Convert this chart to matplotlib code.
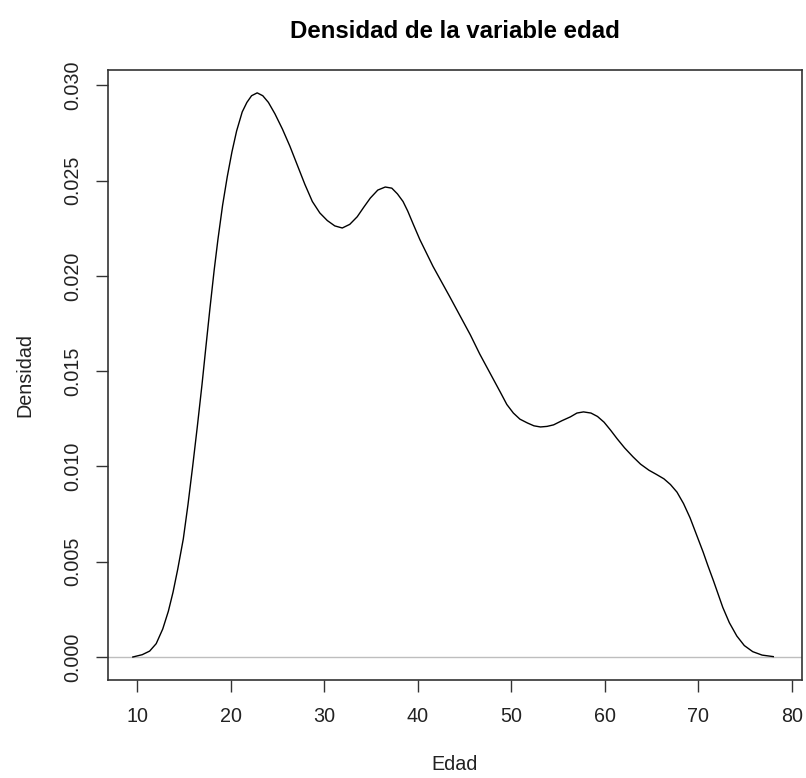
import matplotlib
matplotlib.use("Agg")
import matplotlib.pyplot as plt

plt.rcParams['font.family'] = ['Liberation Sans', 'DejaVu Sans']

titulo = "Densidad de la variable edad"
etiqueta_x = "Edad"
etiqueta_y = "Densidad"

edad = [9.5, 10.5, 11.3, 12.0, 12.7, 13.3, 13.8, 14.3, 14.9, 15.4,
        15.9, 16.4, 16.9, 17.3, 17.75, 18.2, 18.6, 19.1, 19.6, 20.1,
        20.6, 21.2, 21.7, 22.2, 22.8, 23.4, 24.0, 24.7, 25.5, 26.3,
        27.1, 27.9, 28.7, 29.5, 30.3, 31.1, 31.9, 32.7, 33.5, 34.2,
        34.9, 35.7, 36.5, 37.2, 37.8, 38.4, 38.9, 39.5, 40.2, 40.9,
        41.6, 42.5, 43.4, 44.5, 45.6, 46.6, 47.7, 48.8, 49.5, 50.2,
        50.9, 51.7, 52.4, 53.1, 53.8, 54.5, 55.4, 56.3, 57.0, 57.7,
        58.5, 59.2, 59.9, 60.6, 61.3, 62.1, 63.0, 63.8, 64.7, 65.5,
        66.3, 67.0, 67.7, 68.4, 69.1, 69.8, 70.5, 71.0, 71.6, 72.1,
        72.6, 73.3, 74.1, 74.9, 75.8, 76.8, 78.0]
densidad = [0.0, 0.00012, 0.00031, 0.0007, 0.00147, 0.0024, 0.0034, 0.0046, 0.0062, 0.0080,
            0.0100, 0.0121, 0.0143, 0.0162, 0.0183, 0.0203, 0.0219, 0.0237, 0.0252, 0.0265,
            0.0276, 0.0286, 0.0291, 0.02945, 0.0296, 0.02945, 0.0291, 0.0285, 0.0277, 0.0268,
            0.0258, 0.0248, 0.0239, 0.0233, 0.0229, 0.02262, 0.02251, 0.0227, 0.0231, 0.0236,
            0.02408, 0.0245, 0.02466, 0.0246, 0.0243, 0.0239, 0.0234, 0.0227, 0.0219, 0.0212,
            0.0205, 0.0197, 0.0189, 0.0179, 0.0169, 0.0159, 0.0149, 0.0139, 0.01325, 0.0128,
            0.01248, 0.01228, 0.01213, 0.01207, 0.0121, 0.01218, 0.0124, 0.0126, 0.0128, 0.01286,
            0.0128, 0.01262, 0.01232, 0.0119, 0.01145, 0.01097, 0.0105, 0.01012, 0.0098, 0.00958,
            0.00935, 0.00905, 0.00865, 0.00805, 0.0073, 0.0064, 0.0055, 0.0048, 0.0040, 0.0033,
            0.0026, 0.0018, 0.0011, 0.0006, 0.00028, 0.0001, 0.00002]

xticks = [10, 20, 30, 40, 50, 60, 70, 80]
yticks = [0.000, 0.005, 0.010, 0.015, 0.020, 0.025, 0.030]
ytick_labels = ["0.000", "0.005", "0.010", "0.015", "0.020", "0.025", "0.030"]

W, H = 806, 778
fig = plt.figure(figsize=(W / 100, H / 100), dpi=100)
left, right, top, bottom = 108, 802, 70, 680
ax = fig.add_axes([left / W, 1 - bottom / H, (right - left) / W, (bottom - top) / H])

ax.axhline(0, color='#BEBEBE', lw=1.0, zorder=1)
ax.plot(edad, densidad, color='black', lw=1.0, zorder=2)

ax.set_xlim(6.845, 81.07)
ax.set_ylim(-0.001207, 0.0308)

ax.set_xticks(xticks)
ax.set_xticklabels([str(v) for v in xticks])
ax.set_yticks(yticks)
ax.set_yticklabels(ytick_labels, rotation=90, va='center')

ax.tick_params(axis='both', direction='out', length=8.5, width=1.0,
               color='#333333', labelsize=14.2, labelcolor='#222222')
ax.tick_params(axis='x', pad=11)
ax.tick_params(axis='y', pad=10)

for s in ax.spines.values():
    s.set_color('#333333')
    s.set_linewidth(1.2)

ax.set_xlabel(etiqueta_x, fontsize=14.2, color='#222222')
ax.xaxis.label.set_va('center')
ax.xaxis.set_label_coords(0.5, (bottom - 765) / (bottom - top))
ax.set_ylabel(etiqueta_y, fontsize=14.2, color='#222222')
ax.yaxis.label.set_va('center')
ax.yaxis.set_label_coords((25 - left) / (right - left), 0.5)

ax.set_title(titulo, fontsize=17.3, fontweight='bold', va='center',
             y=(bottom - 40) / (bottom - top))

fig.savefig("out.png", dpi=100)
